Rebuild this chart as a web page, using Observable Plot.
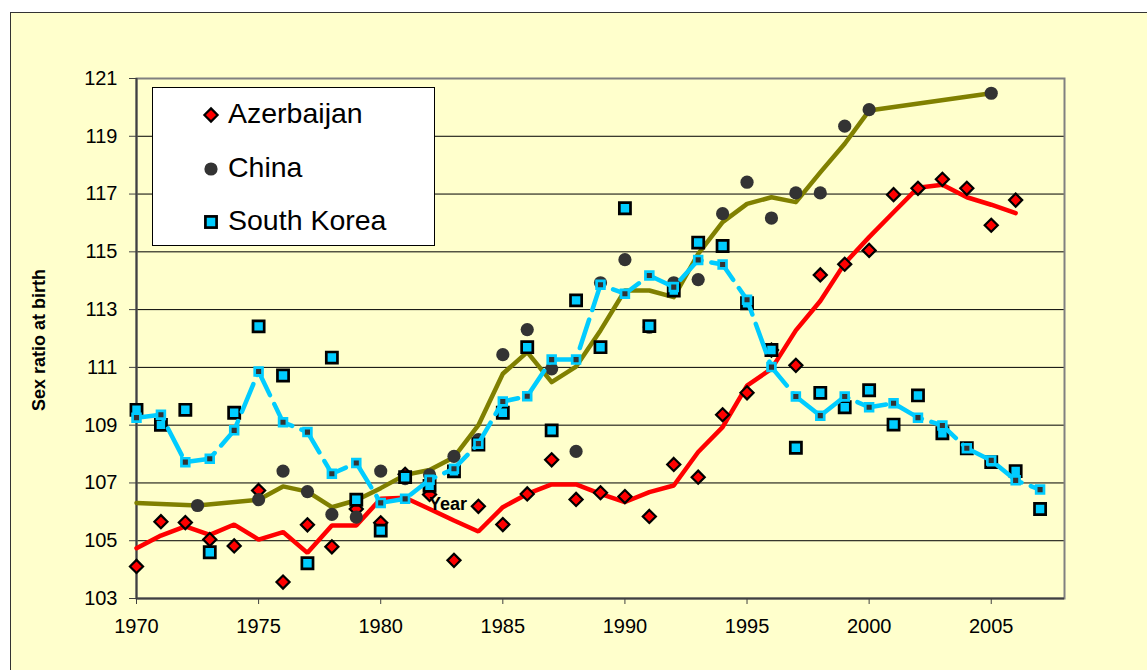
<!DOCTYPE html>
<html>
<head>
<meta charset="utf-8">
<script src="https://cdn.jsdelivr.net/npm/d3@7"></script>
<script src="https://cdn.jsdelivr.net/npm/@observablehq/plot@0.6"></script>
<style>
  html, body { margin: 0; padding: 0; background: #ffffff; }
  body { width: 1147px; height: 670px; overflow: hidden; position: relative; font-family: "Liberation Sans", Arial, sans-serif; }
  #bg { position: absolute; left: 10px; top: 12px; width: 1200px; height: 700px; background: #FFFFCC; border-left: 1.5px solid #333; border-top: 1.5px solid #333; }
  #chart { position: absolute; left: 0; top: 0; }
  #legend { position: absolute; left: 152px; top: 87px; width: 281px; height: 157px; background: #fff; border: 1.3px solid #000; }
  .item { position: absolute; left: 0; height: 40px; display: flex; align-items: center; }
  .item svg { position: absolute; left: 49px; top: 12px; }
  .item span { position: absolute; left: 75px; top: 2px; font-size: 28.5px; color: #000; white-space: nowrap; line-height: 34px; }
</style>
</head>
<body>
<div id="bg"></div>
<div id="chart"></div>
<div id="legend"></div>
<script>
// ---------- data ----------
const countries = ["Azerbaijan", "China", "South Korea"];

const azYears = [1970,1971,1972,1973,1974,1975,1976,1977,1978,1979,1980,1981,1982,1983,1984,1985,1986,1987,1988,1989,1990,1991,1992,1993,1994,1995,1996,1997,1998,1999,2000,2001,2002,2003,2004,2005,2006];
const azValues = [104.11,105.66,105.63,105.04,104.82,106.74,103.57,105.55,104.79,106.1,105.62,107.3,106.6,104.32,106.19,105.56,106.62,107.8,106.43,106.66,106.53,105.84,107.64,107.2,109.36,110.12,111.6,111.07,114.2,114.57,115.05,116.98,117.2,117.51,117.2,115.92,116.79];
const azTrend = [104.74,105.18,105.5,105.2,105.56,105.04,105.3,104.58,105.53,105.53,106.45,106.49,106.1,105.7,105.32,106.16,106.62,106.95,106.95,106.62,106.34,106.68,106.91,108.07,108.93,110.37,110.95,112.28,113.3,114.6,115.51,116.37,117.22,117.32,116.89,116.63,116.34];

const cnYears = [1972.5,1975,1976,1977,1978,1979,1980,1981,1982,1983,1984,1985,1986,1987,1988,1989,1990,1991,1992,1993,1994,1995,1996,1997,1998,1999,2000,2005];
const cnValues = [106.22,106.42,107.41,106.7,105.91,105.82,107.41,107.15,107.28,107.92,108.5,111.44,112.31,110.95,108.09,113.93,114.73,112.39,113.93,114.04,116.32,117.41,116.17,117.04,117.04,119.35,119.92,120.49];
const cnTrendYears = [1970,1972.5,1975,1976,1977,1978,1979,1980,1981,1982,1983,1984,1985,1986,1987,1988,1989,1990,1991,1992,1993,1994,1995,1996,1997,1998,1999,2000,2005];
const cnTrend = [106.31,106.22,106.42,106.88,106.7,106.16,106.4,106.82,107.28,107.45,107.89,109.0,110.78,111.53,110.49,111.03,112.28,113.66,113.66,113.43,114.93,116.03,116.66,116.89,116.72,117.75,118.74,119.89,120.49];

const krYears = [1970,1971,1972,1973,1974,1975,1976,1977,1978,1979,1980,1981,1982,1983,1984,1985,1986,1987,1988,1989,1990,1991,1992,1993,1994,1995,1996,1997,1998,1999,2000,2001,2002,2003,2004,2005,2006,2007];
const krValues = [109.53,109.01,109.53,104.6,109.43,112.42,110.72,104.22,111.34,106.42,105.35,107.2,106.9,107.4,108.33,109.43,111.7,108.82,113.32,111.7,116.51,112.43,113.66,115.32,115.2,113.22,111.6,108.22,110.12,109.62,110.21,109.02,110.03,108.72,108.2,107.72,107.41,106.1];
const krTrend = [109.26,109.36,107.72,107.84,108.82,110.86,109.1,108.76,107.32,107.69,106.31,106.45,107.11,107.49,108.36,109.82,110.0,111.27,111.27,113.86,113.55,114.18,113.78,114.72,114.56,113.34,111.01,109.99,109.33,109.99,109.62,109.76,109.26,108.99,108.2,107.78,107.09,106.77];

const xTicks = [1970,1975,1980,1985,1990,1995,2000,2005];
const yTicks = [103,105,107,109,111,113,115,117,119,121];
const yLabel = "Sex ratio at birth";
const xLabel = "Year";

// ---------- tables ----------
const az = azYears.map((x, i) => ({x, y: azValues[i]}));
const azT = azYears.map((x, i) => ({x, y: azTrend[i]}));
const cn = cnYears.map((x, i) => ({x, y: cnValues[i]}));
const cnT = cnTrendYears.map((x, i) => ({x, y: cnTrend[i]}));
const kr = krYears.map((x, i) => ({x, y: krValues[i]}));
const krT = krYears.map((x, i) => ({x, y: krTrend[i]}));

const RED = "#FF0000", OLIVE = "#808000", CYAN = "#00CCFF", DARK = "#333333";

const plot = Plot.plot({
  width: 1147, height: 670,
  marginLeft: 136, marginRight: 83, marginTop: 78, marginBottom: 72,
  style: {background: "transparent", fontFamily: "'Liberation Sans', Arial, sans-serif", fontSize: "20px", color: "#000", overflow: "visible"},
  x: {domain: [1970, 2008]},
  y: {domain: [103, 121]},
  marks: [
    Plot.ruleY(yTicks.slice(1, -1), {stroke: "#000", strokeWidth: 1}),
    Plot.frame({stroke: "#808080", strokeWidth: 2}),
    Plot.ruleX([xTicks[0]], {stroke: "#404040", strokeWidth: 2}),
    Plot.ruleY([yTicks[0]], {stroke: "#404040", strokeWidth: 2}),
    Plot.axisX({ticks: xTicks, tickFormat: d => String(d), tickSize: 6, tickPadding: 14, label: null, stroke: "#404040"}),
    Plot.axisY({ticks: yTicks, tickSize: 7, tickPadding: 12, label: null, stroke: "#404040"}),
    Plot.line(azT, {x: "x", y: "y", stroke: RED, strokeWidth: 4.5, strokeLinejoin: "miter"}),
    Plot.dot(az, {x: "x", y: "y", symbol: "diamond2", r: 5.9, fill: RED, stroke: "#000", strokeWidth: 2.2}),
    Plot.line(cnT, {x: "x", y: "y", stroke: OLIVE, strokeWidth: 4.5}),
    Plot.dot(cn, {x: "x", y: "y", symbol: "circle", r: 6.6, fill: DARK, stroke: "none"}),
    Plot.dot(kr, {x: "x", y: "y", symbol: "square", r: 6.3, fill: CYAN, stroke: "#000", strokeWidth: 2.7}),
    Plot.line(krT, {x: "x", y: "y", stroke: CYAN, strokeWidth: 4.5, strokeDasharray: "30,10"}),
    Plot.dot(krT, {x: "x", y: "y", symbol: "square", r: 4.4, fill: DARK, stroke: CYAN, strokeWidth: 2.7})
  ]
});
document.getElementById("chart").appendChild(plot);

// axis titles as text
const svg = d3.select(plot);
svg.append("text")
  .attr("transform", "translate(45,340) rotate(-90)")
  .attr("text-anchor", "middle")
  .attr("font-weight", "bold")
  .attr("font-size", 18)
  .attr("fill", "#000")
  .text(yLabel);
svg.append("text")
  .attr("x", 448).attr("y", 510)
  .attr("font-weight", "bold")
  .attr("font-size", 18)
  .attr("fill", "#000")
  .text(xLabel);

// legend
const legend = document.getElementById("legend");
const symbols = [
  '<svg width="18" height="18" viewBox="-9 -9 18 18"><path d="M0,-6.6L6.6,0L0,6.6L-6.6,0Z" fill="' + RED + '" stroke="#000" stroke-width="2.2"/></svg>',
  '<svg width="18" height="18" viewBox="-9 -9 18 18"><circle r="6.6" fill="' + DARK + '"/></svg>',
  '<svg width="18" height="18" viewBox="-9 -9 18 18"><rect x="-5.6" y="-5.6" width="11.2" height="11.2" fill="' + CYAN + '" stroke="#000" stroke-width="2.7"/></svg>'
];
const rowTops = [6, 60, 113];
countries.forEach((c, i) => {
  const d = document.createElement("div");
  d.className = "item";
  d.style.top = rowTops[i] + "px";
  d.innerHTML = symbols[i] + "<span>" + c + "</span>";
  legend.appendChild(d);
});
</script>
</body>
</html>
